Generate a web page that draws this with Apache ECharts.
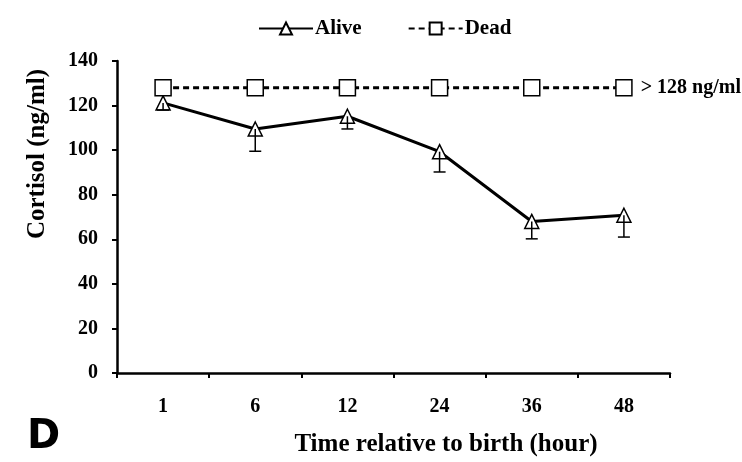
<!DOCTYPE html>
<html><head><meta charset="utf-8">
<script src="https://cdn.jsdelivr.net/npm/echarts@6/dist/echarts.min.js"></script>
<style>html,body{margin:0;padding:0;background:#fff}#c{width:742px;height:462px}</style>
</head><body><div id="c"></div>
<script>
const categories = ['1', '6', '12', '24', '36', '48'];
const aliveMean = [121.2, 109.5, 115.2, 99.3, 68.0, 70.8];
const aliveLower = [118.0, 99.5, 109.5, 90.2, 60.2, 61.0];
const deadValues = [128, 128, 128, 128, 128, 128];
const deadLabel = '> 128 ng/ml';
const yTicks = { min: 0, max: 140, interval: 20 };

const serif = 'Liberation Serif';
const chart = echarts.init(document.getElementById('c'));
chart.setOption({
  animation: false,
  backgroundColor: '#fff',
  grid: { left: 117, right: 72, top: 61, bottom: 89 },
  legend: {
    top: 13, left: 253, itemWidth: 54, itemHeight: 15, itemGap: 46,
    textStyle: { fontFamily: serif, fontWeight: 'bold', fontSize: 21, color: '#000', padding: [0, 0, 0, -3] },
    data: ['Alive', 'Dead']
  },
  xAxis: {
    type: 'category', data: categories, boundaryGap: true,
    axisLine: { lineStyle: { color: '#000', width: 2.5 } },
    axisTick: { show: true, length: 5, lineStyle: { color: '#000', width: 2 }, alignWithLabel: false },
    axisLabel: { fontFamily: serif, fontWeight: 'bold', fontSize: 20, color: '#000', margin: 24 },
    splitLine: { show: false }
  },
  yAxis: {
    type: 'value', min: yTicks.min, max: yTicks.max, interval: yTicks.interval,
    axisLine: { show: true, lineStyle: { color: '#000', width: 2.5 } },
    axisTick: { show: true, length: 5, lineStyle: { color: '#000', width: 2 } },
    axisLabel: { fontFamily: serif, fontWeight: 'bold', fontSize: 20, color: '#000', margin: 19 },
    splitLine: { show: false }
  },
  series: [
    {
      name: 'Alive', type: 'line', data: aliveMean,
      symbol: 'triangle', symbolSize: 14,
      lineStyle: { color: '#000', width: 3 },
      itemStyle: { color: '#fff', borderColor: '#000', borderWidth: 1.5 },
      z: 3
    },
    {
      name: 'AliveErr', type: 'custom',
      data: aliveMean.map((m, i) => [i, m, aliveLower[i]]),
      renderItem: function (params, api) {
        const top = api.coord([api.value(0), api.value(1)]);
        const bot = api.coord([api.value(0), api.value(2)]);
        const hw = 6;
        return {
          type: 'group',
          children: [
            { type: 'line', shape: { x1: top[0], y1: top[1], x2: bot[0], y2: bot[1] }, style: { stroke: '#000', lineWidth: 1.5 } },
            { type: 'line', shape: { x1: bot[0] - hw, y1: bot[1], x2: bot[0] + hw, y2: bot[1] }, style: { stroke: '#000', lineWidth: 1.5 } }
          ]
        };
      },
      z: 4, silent: true
    },
    {
      name: 'Dead', type: 'line', data: deadValues.map((v, i) => i === deadValues.length - 1 ? {
        value: v, label: { show: true, position: 'right', distance: 8, formatter: deadLabel,
          fontFamily: serif, fontWeight: 'bold', fontSize: 20, color: '#000' } } : v),
      symbol: 'rect', symbolSize: 16,
      lineStyle: { color: '#000', width: 3, type: [6, 4] },
      itemStyle: { color: '#fff', borderColor: '#000', borderWidth: 1.5 },
      z: 3
    }
  ],
  graphic: [
    { type: 'text', x: 38, y: 154, rotation: Math.PI / 2,
      style: { text: 'Cortisol (ng/ml)', font: 'bold 25px "Liberation Serif"', fill: '#000', align: 'center', verticalAlign: 'middle' } },
    { type: 'text', x: 446, y: 445,
      style: { text: 'Time relative to birth (hour)', font: 'bold 25px "Liberation Serif"', fill: '#000', align: 'center', verticalAlign: 'middle' } },
    { type: 'text', left: 27, top: 418, style: { text: 'D', font: 'bold 40px "DejaVu Sans"', fill: '#000' } }
  ]
});
</script></body></html>
